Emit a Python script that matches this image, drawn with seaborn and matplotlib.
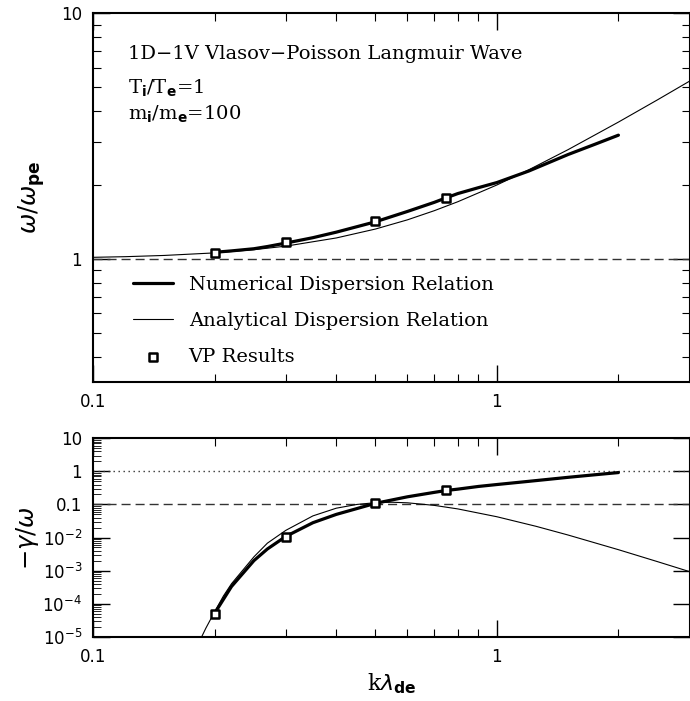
import matplotlib
matplotlib.use("Agg")
import math
import matplotlib.pyplot as plt
import matplotlib.ticker as mticker
import pandas as pd
import seaborn as sns

# ---------------- data ----------------
k_vp = [0.2, 0.3, 0.5, 0.75]
omega_vp = [1.055, 1.170, 1.430, 1.775]
gamma_vp = [5.0e-5, 1.04e-2, 0.108, 0.265]

k_num = [0.2, 0.22, 0.25, 0.27, 0.3, 0.35, 0.4, 0.5, 0.6, 0.7, 0.75, 0.8, 0.9,
         1.0, 1.2, 1.5, 1.75, 2.0]
omega_num = [1.064, 1.078, 1.100, 1.123, 1.160, 1.220, 1.285, 1.416, 1.560, 1.700,
             1.775, 1.845, 1.950, 2.046, 2.280, 2.660, 2.930, 3.190]
gamma_num = [5.2e-5, 3.3e-4, 2.0e-3, 4.5e-3, 1.08e-2, 2.8e-2, 5.0e-2, 0.108, 0.170,
             0.232, 0.265, 0.29, 0.35, 0.40, 0.50, 0.66, 0.79, 0.92]

k_ana_w = [0.1, 0.12, 0.15, 0.2, 0.25, 0.3, 0.4, 0.5, 0.6, 0.7, 0.8, 1.0, 1.2,
           1.5, 2.0, 2.5, 3.0]
omega_ana = [1.015, 1.021, 1.033, 1.058, 1.090, 1.127, 1.217, 1.323, 1.442, 1.572,
             1.709, 2.000, 2.307, 2.784, 3.606, 4.444, 5.292]

k_ana_g = [0.18, 0.19, 0.2, 0.21, 0.22, 0.25, 0.27, 0.3, 0.35, 0.4, 0.45, 0.5,
           0.55, 0.6, 0.7, 0.8, 1.0, 1.25, 1.5, 2.0, 2.5, 3.0]
gamma_ana = [4.6e-6, 1.8e-5, 5.8e-5, 1.69e-4, 4.0e-4, 2.6e-3, 6.75e-3, 1.65e-2,
             4.5e-2, 7.7e-2, 0.100, 0.113, 0.1165, 0.112, 0.0935, 0.0732, 0.0424,
             0.0218, 0.0119, 4.28e-3, 1.86e-3, 9.3e-4]

x_ticklabels = {0.1: "0.1", 1.0: "1"}
y_top_ticklabels = {1.0: "1", 10.0: "10"}

label_num = "Numerical Dispersion Relation"
label_ana = "Analytical Dispersion Relation"
label_vp = "VP Results"

# ---------------- style ----------------
sns.set_theme(style="ticks")
plt.rcParams["font.family"] = ["DejaVu Sans"]
plt.rcParams["mathtext.fontset"] = "dejavusans"
plt.rcParams["axes.linewidth"] = 1.5
plt.rcParams["axes.edgecolor"] = "black"
plt.rcParams["text.color"] = "black"
plt.rcParams["axes.labelcolor"] = "black"
plt.rcParams["xtick.color"] = "black"
plt.rcParams["ytick.color"] = "black"
plt.rcParams["xtick.labelcolor"] = "black"
plt.rcParams["ytick.labelcolor"] = "black"

SERIF = ["DejaVu Serif"]
TXT = 14.0

fig = plt.figure(figsize=(6.9, 7.01), dpi=100)
W, H = 690.0, 701.0
L, R = 93.3 / W, 689.5 / W
ax1 = fig.add_axes([L, 1 - 381.7 / H, R - L, (381.7 - 13.3) / H])
ax2 = fig.add_axes([L, 1 - 636.7 / H, R - L, (636.7 - 438.3) / H])

df_num = pd.DataFrame({"k": k_num, "w": omega_num, "g": gamma_num})
df_ana_w = pd.DataFrame({"k": k_ana_w, "w": omega_ana})
df_ana_g = pd.DataFrame({"k": k_ana_g, "g": gamma_ana})
df_vp = pd.DataFrame({"k": k_vp, "w": omega_vp, "g": gamma_vp})

for ax in (ax1, ax2):
    ax.set_xscale("log")
    ax.set_yscale("log")

# ---------- top panel ----------
ax1.axhline(1.0, color="#333333", lw=1.0, dashes=(6.5, 3.6), zorder=1)
sns.lineplot(data=df_num, x="k", y="w", ax=ax1, color="black", lw=2.3,
             label=label_num, zorder=3)
sns.lineplot(data=df_ana_w, x="k", y="w", ax=ax1, color="black", lw=0.8,
             label=label_ana, zorder=2)
sns.scatterplot(data=df_vp, x="k", y="w", ax=ax1, marker="s", s=32,
                facecolor="white", edgecolor="black", linewidth=1.8,
                label=label_vp, zorder=4)
ax1.set_xlim(0.1, 3.0)
ax1.set_ylim(10 ** -0.5, 10)

# ---------- bottom panel ----------
ax2.axhline(1.0, color="#333333", lw=1.0, dashes=(1.0, 2.6), zorder=1)
ax2.axhline(0.1, color="#333333", lw=1.0, dashes=(6.5, 3.6), zorder=1)
sns.lineplot(data=df_num, x="k", y="g", ax=ax2, color="black", lw=2.3, zorder=3)
sns.lineplot(data=df_ana_g, x="k", y="g", ax=ax2, color="black", lw=0.8, zorder=2)
sns.scatterplot(data=df_vp, x="k", y="g", ax=ax2, marker="s", s=32,
                facecolor="white", edgecolor="black", linewidth=1.8, zorder=4)
ax2.set_xlim(0.1, 3.0)
ax2.set_ylim(1e-5, 10)
if ax2.get_legend() is not None:
    ax2.get_legend().remove()


def xfmt(v, pos):
    for key, s in x_ticklabels.items():
        if abs(v - key) < 1e-9 * max(1, key):
            return s
    return ""


def ytopfmt(v, pos):
    for key, s in y_top_ticklabels.items():
        if abs(v - key) < 1e-9 * key:
            return s
    return ""


def ybotfmt(v, pos):
    e = int(round(math.log10(v)))
    if e == 1:
        return "10"
    if e == 0:
        return "1"
    if e == -1:
        return "0.1"
    return r"10$^{%d}$" % e


for ax in (ax1, ax2):
    ax.xaxis.set_major_locator(mticker.LogLocator(base=10))
    ax.xaxis.set_minor_locator(mticker.LogLocator(base=10, subs=range(2, 10)))
    ax.xaxis.set_major_formatter(mticker.FuncFormatter(xfmt))
    ax.xaxis.set_minor_formatter(mticker.NullFormatter())
    ax.yaxis.set_major_locator(mticker.LogLocator(base=10, numticks=20))
    ax.yaxis.set_minor_locator(mticker.LogLocator(base=10, subs=range(2, 10), numticks=20))
    ax.yaxis.set_minor_formatter(mticker.NullFormatter())
    ax.tick_params(which="major", direction="in", length=12, width=1.0,
                   top=True, right=True, labelsize=12, pad=8, colors="black")
    ax.tick_params(which="minor", direction="in", length=6, width=0.8,
                   top=True, right=True, colors="black")
    ax.set_xlabel("")
    ax.set_ylabel("")
    for sp in ax.spines.values():
        sp.set_linewidth(1.5)

ax1.yaxis.set_major_formatter(mticker.FuncFormatter(ytopfmt))
ax2.yaxis.set_major_formatter(mticker.FuncFormatter(ybotfmt))
ax2.tick_params(axis="y", which="minor", right=False, length=6, width=0.6)

# axis labels
ax1.set_ylabel(r"$\omega/\omega_{\mathbf{pe}}$", fontsize=17.5)
ax2.set_ylabel(r"$-\gamma/\omega$", fontsize=17.5)
ax1.yaxis.set_label_coords(-0.078, 0.5)
ax2.yaxis.set_label_coords(-0.088, 0.5)
ax2.set_xlabel(r"k$\lambda_{\mathbf{de}}$", fontsize=16, family=SERIF, labelpad=4)

# annotations
ax1.text(0.058, 0.875, "1D\u22121V Vlasov\u2212Poisson Langmuir Wave",
         transform=ax1.transAxes, fontsize=TXT, family=SERIF, va="baseline")
ax1.text(0.058, 0.783, r"T$_{\mathbf{i}}$/T$_{\mathbf{e}}$=1",
         transform=ax1.transAxes, fontsize=TXT, family=SERIF, va="baseline")
ax1.text(0.058, 0.711, r"m$_{\mathbf{i}}$/m$_{\mathbf{e}}$=100",
         transform=ax1.transAxes, fontsize=TXT, family=SERIF, va="baseline")

leg = ax1.legend(loc="upper left", bbox_to_anchor=(0.066, 0.287), frameon=False,
                 borderpad=0, borderaxespad=0, handlelength=2.1,
                 handletextpad=0.78, labelspacing=0.92,
                 prop={"family": SERIF, "size": TXT})
for h in leg.legend_handles:
    try:
        h.set_sizes([28])
    except AttributeError:
        pass

fig.savefig("out.png", dpi=100)
